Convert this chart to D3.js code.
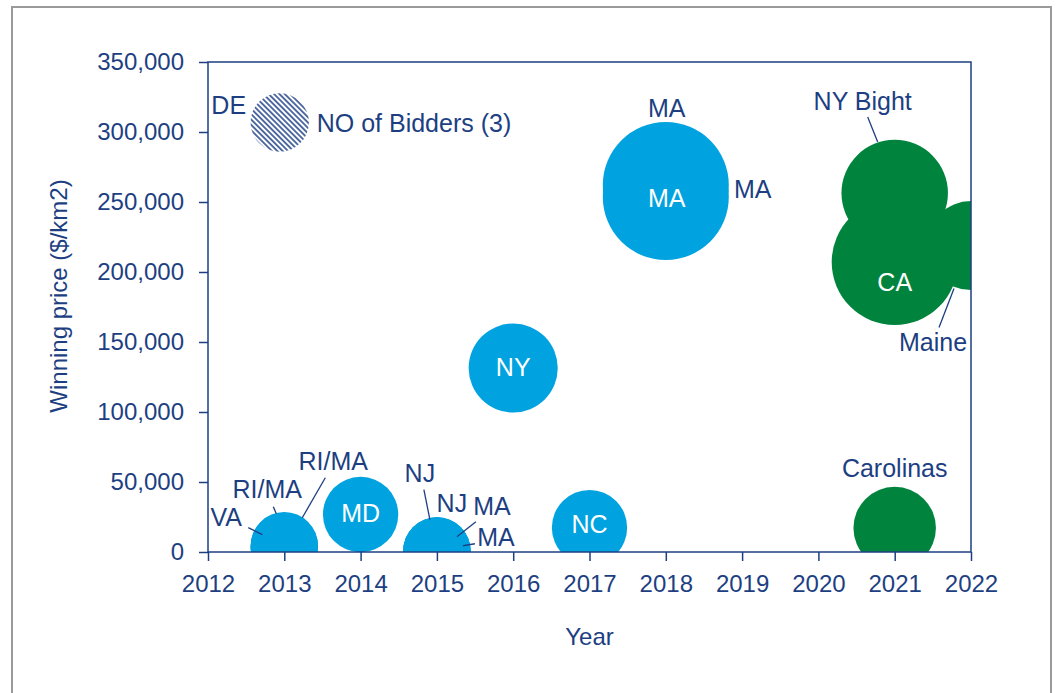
<!DOCTYPE html>
<html>
<head>
<meta charset="utf-8">
<script src="https://cdn.jsdelivr.net/npm/d3@7"></script>
<style>
  body { margin: 0; background: #fff; }
  svg { display: block; font-family: 'Liberation Sans', Arial, sans-serif; }
</style>
</head>
<body>
<svg id="chart" width="1058" height="693"></svg>
<script>
// lease auctions: one entry per bubble
const projects = ['DE', 'VA', 'RI/MA', 'RI/MA', 'MD', 'NJ', 'NJ', 'MA', 'MA', 'NY', 'NC',
  'MA', 'MA', 'MA', 'NY Bight', 'CA', 'Maine', 'Carolinas'];
const years = [2012.94, 2013, 2013, 2013, 2014, 2015, 2015, 2015, 2015, 2016, 2017,
  2018, 2018, 2018, 2021, 2021, 2022, 2021];
const prices = [306800, 4000, 4500, 3600, 26800, 600, 900, 400, 700, 131400, 17400,
  262100, 257900, 253600, 256400, 207100, 218900, 17100];
const bidders = [3, 4, 4, 4, 5, 4, 4, 4, 4, 7, 5, 14, 13, 14, 10, 14, 7, 6];
const phases = ['key', 'early', 'early', 'early', 'early', 'early', 'early', 'early', 'early',
  'early', 'early', 'early', 'early', 'early', 'recent', 'recent', 'recent', 'recent'];

const yearTicks = [2012, 2013, 2014, 2015, 2016, 2017, 2018, 2019, 2020, 2021, 2022];
const priceTicks = [0, 50000, 100000, 150000, 200000, 250000, 300000, 350000];

const navy = '#1d3f82';
const svg = d3.select('#chart');

// outer frame
svg.append('rect')
  .attr('x', 12).attr('y', 7)
  .attr('width', 1039).attr('height', 700)
  .attr('fill', 'none')
  .attr('stroke', '#9a9a9a')
  .attr('stroke-width', 2);

const plot = { left: 208, right: 971, top: 62, bottom: 552 };

const x = d3.scaleLinear().domain([2012, 2022]).range([plot.left, plot.right]);
const y = d3.scaleLinear().domain([0, 350000]).range([plot.bottom, plot.top]);
const r = d3.scaleSqrt().domain([0, 14]).range([0, 63]);
const fill = d3.scaleOrdinal().domain(['key', 'early', 'recent'])
  .range(['url(#hatch)', '#00a3e0', '#00843d']);

const defs = svg.append('defs');
defs.append('clipPath').attr('id', 'plot-clip')
  .append('rect')
  .attr('x', plot.left).attr('y', plot.top)
  .attr('width', plot.right - plot.left).attr('height', plot.bottom - plot.top);

const hatch = defs.append('pattern')
  .attr('id', 'hatch')
  .attr('patternUnits', 'userSpaceOnUse')
  .attr('width', 3.8).attr('height', 3.8)
  .attr('patternTransform', 'rotate(45)');
hatch.append('line')
  .attr('x1', 0).attr('y1', 1.9).attr('x2', 3.8).attr('y2', 1.9)
  .attr('stroke', navy).attr('stroke-width', 1.5);

const data = projects.map((p, i) => ({
  name: p, year: years[i], price: prices[i], bidders: bidders[i], phase: phases[i]
}));

// bubbles
svg.append('g')
  .attr('clip-path', 'url(#plot-clip)')
  .selectAll('circle')
  .data(data)
  .enter()
  .append('circle')
  .attr('cx', (d) => x(d.year))
  .attr('cy', (d) => y(d.price))
  .attr('r', (d) => r(d.bidders))
  .attr('fill', (d) => fill(d.phase));

// axes
const yAxis = d3.axisLeft(y)
  .tickValues(priceTicks)
  .tickFormat(d3.format(','))
  .tickSize(9)
  .tickPadding(15);
const xAxis = d3.axisBottom(x)
  .tickValues(yearTicks)
  .tickFormat(d3.format('d'))
  .tickSize(9)
  .tickPadding(14);

const styleAxis = (g) => {
  g.select('.domain').remove();
  g.selectAll('line').attr('stroke', navy).attr('stroke-width', 1.5);
  g.selectAll('text')
    .attr('fill', navy)
    .attr('font-size', 24)
    .attr('font-family', "'Liberation Sans', Arial, sans-serif");
};

svg.append('g')
  .attr('transform', `translate(${plot.left},0)`)
  .call(yAxis)
  .call(styleAxis);
svg.append('g')
  .attr('transform', `translate(0,${plot.bottom})`)
  .call(xAxis)
  .call(styleAxis);

svg.append('rect')
  .attr('x', plot.left).attr('y', plot.top)
  .attr('width', plot.right - plot.left).attr('height', plot.bottom - plot.top)
  .attr('fill', 'none')
  .attr('stroke', navy)
  .attr('stroke-width', 1.5);

// axis titles
svg.append('text')
  .attr('x', (plot.left + plot.right) / 2)
  .attr('y', 645)
  .attr('text-anchor', 'middle')
  .attr('font-size', 24)
  .attr('fill', navy)
  .text('Year');

svg.append('text')
  .attr('transform', 'translate(67,296) rotate(-90)')
  .attr('text-anchor', 'middle')
  .attr('font-size', 24)
  .attr('fill', navy)
  .text('Winning price ($/km2)');

// annotations, placed relative to the bubble they belong to
const notes = [
  { i: 0, text: 'DE', dx: -51, dy: -17 },
  { i: 0, text: 'NO of Bidders (3)', dx: 37, dy: 1, anchor: 'start' },
  { i: 2, text: 'VA', dx: -58, dy: -29, line: [-36, -18, -22, -11] },
  { i: 2, text: 'RI/MA', dx: -17, dy: -57, line: [-11, -39, -8, -32] },
  { i: 2, text: 'RI/MA', dx: 49, dy: -85, line: [41, -68, 18, -28] },
  { i: 4, text: 'MD', dx: 0, dy: -1, white: true },
  { i: 6, text: 'NJ', dx: -17, dy: -78, line: [-13, -61, -7, -31] },
  { i: 6, text: 'NJ', dx: 15, dy: -48 },
  { i: 6, text: 'MA', dx: 55, dy: -45, line: [39, -29, 20, -14] },
  { i: 6, text: 'MA', dx: 59, dy: -14, line: [38, -7, 26, -5] },
  { i: 9, text: 'NY', dx: 0, dy: -1, white: true },
  { i: 10, text: 'NC', dx: 0, dy: -4, white: true },
  { i: 12, text: 'MA', dx: 1, dy: -83 },
  { i: 12, text: 'MA', dx: 87, dy: -2 },
  { i: 12, text: 'MA', dx: 1, dy: 7, white: true },
  { i: 14, text: 'NY Bight', dx: -32, dy: -92, line: [-27, -76, -17, -51] },
  { i: 15, text: 'CA', dx: 0, dy: 20, white: true },
  { i: 16, text: 'Maine', dx: -38, dy: 96, line: [-32, 82, -17, 43] },
  { i: 17, text: 'Carolinas', dx: 0, dy: -60 }
];

svg.append('g')
  .selectAll('line')
  .data(notes.filter((n) => n.line))
  .enter()
  .append('line')
  .attr('x1', (n) => x(years[n.i]) + n.line[0])
  .attr('y1', (n) => y(prices[n.i]) + n.line[1])
  .attr('x2', (n) => x(years[n.i]) + n.line[2])
  .attr('y2', (n) => y(prices[n.i]) + n.line[3])
  .attr('stroke', navy)
  .attr('stroke-width', 1.3);

svg.append('g')
  .selectAll('text')
  .data(notes)
  .enter()
  .append('text')
  .attr('x', (n) => x(years[n.i]) + n.dx)
  .attr('y', (n) => y(prices[n.i]) + n.dy)
  .attr('dy', '0.36em')
  .attr('text-anchor', (n) => n.anchor || 'middle')
  .attr('font-size', 25)
  .attr('fill', (n) => (n.white ? '#ffffff' : navy))
  .text((n) => n.text);
</script>
</body>
</html>
